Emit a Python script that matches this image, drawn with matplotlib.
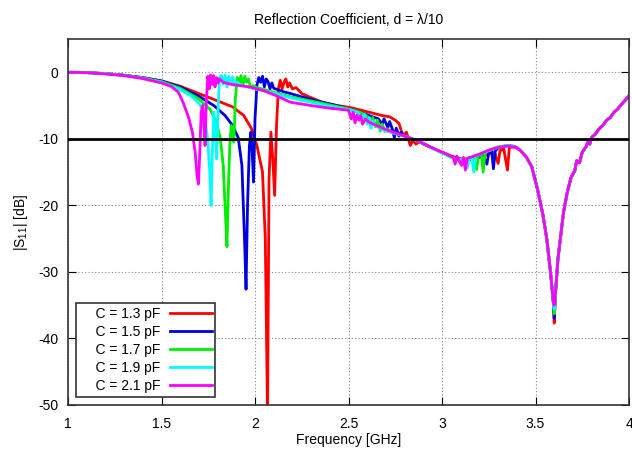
import numpy as np
import matplotlib.pyplot as plt

plt.rcParams['font.family'] = ['Liberation Sans', 'DejaVu Sans']
plt.rcParams['axes.unicode_minus'] = False
plt.rcParams['mathtext.fontset'] = 'custom'
plt.rcParams['mathtext.rm'] = 'Liberation Sans'
plt.rcParams['mathtext.it'] = 'Liberation Sans'

# capacitance labels and colours
labels = ['C = 1.3 pF', 'C = 1.5 pF', 'C = 1.7 pF', 'C = 1.9 pF', 'C = 2.1 pF']
colors = ['#ff0000', '#0000dd', '#00ee00', '#00ffff', '#ff00ff']

# per-curve data up to 3.4 GHz
f_13 = [1.0, 1.1, 1.2, 1.3, 1.4, 1.5, 1.6, 1.7, 1.8, 1.88, 1.94, 1.98, 2.01, 2.04, 2.055, 2.067,
        2.075, 2.085, 2.095, 2.105, 2.115, 2.125, 2.135, 2.145, 2.155, 2.165, 2.175, 2.185, 2.2,
        2.22, 2.25, 2.29, 2.36, 2.44, 2.51, 2.61, 2.68, 2.72, 2.75, 2.77, 2.79, 2.81, 2.83, 2.845,
        2.86, 2.88, 2.9, 2.95, 3.0, 3.05, 3.1, 3.15, 3.2, 3.25, 3.28, 3.3, 3.31, 3.33, 3.35, 3.36,
        3.38, 3.4]
s_13 = [0, -0.05, -0.2, -0.45, -0.8, -1.3, -2.1, -3.2, -4.3, -5.2, -6.5, -8.4, -11, -15, -25, -52,
        -16, -9, -13, -18.5, -8, -2.5, -1.2, -2.5, -1.5, -1.0, -2.2, -1.6, -2.5,
        -2.3, -3.2, -3.7, -4.5, -5.0, -5.3, -6.0, -6.5, -6.7, -7.2, -7.7, -9.5, -9.0, -11.0, -10.2,
        -10.8, -10.4, -10.8, -11.4, -12.0, -12.6, -13.0, -13.1, -12.8, -12.3, -12.0, -13.7, -11.8, -11.5, -14.7, -11.3,
        -11.2, -11.4]

f_15 = [1.0, 1.1, 1.2, 1.3, 1.4, 1.5, 1.6, 1.7, 1.78, 1.84, 1.88, 1.91, 1.93, 1.945, 1.952, 1.96,
        1.97, 1.978, 1.985, 1.992, 2.0, 2.01, 2.02, 2.03, 2.04, 2.05, 2.06, 2.07, 2.08, 2.09, 2.1,
        2.12, 2.15, 2.19, 2.25, 2.36, 2.45, 2.51, 2.58, 2.63, 2.66, 2.68, 2.69, 2.71, 2.72, 2.735,
        2.745, 2.755, 2.77, 2.78, 2.8, 2.83, 2.87, 2.9, 2.95, 3.0, 3.05, 3.1, 3.15, 3.2, 3.22, 3.24,
        3.25, 3.265, 3.275, 3.285, 3.3, 3.32, 3.35, 3.38, 3.4]
s_15 = [0, -0.05, -0.2, -0.45, -0.8, -1.3, -2.2, -3.6, -5.0, -6.5, -8.0, -9.8, -14, -26, -32.6, -20,
        -11, -9, -12, -16.5, -7, -2, -0.8, -1.5, -0.6, -2.2, -1.0, -1.4, -2.5, -1.6, -2.4,
        -2.6, -2.9, -3.2, -3.7, -4.5, -5.1, -5.6, -6.2, -6.7, -7.0, -7.8, -7.0, -8.3, -7.4, -8.6,
        -9.8, -8.4, -9.6, -9.0, -9.6, -9.9, -10.3, -10.7, -11.4, -12.1, -12.7, -13.1, -13.1, -12.7, -12.5, -13.8,
        -12.1, -11.8, -14.5, -11.8, -11.4, -11.2, -11.0, -11.1, -11.3]

f_17 = [1.0, 1.1, 1.2, 1.3, 1.4, 1.5, 1.6, 1.7, 1.76, 1.79, 1.815, 1.83, 1.843, 1.85, 1.857, 1.865,
        1.873, 1.88, 1.887, 1.895, 1.905, 1.915, 1.925, 1.935, 1.945, 1.955, 1.965, 1.975, 1.99,
        2.01, 2.05, 2.1, 2.19, 2.3, 2.4, 2.5, 2.57, 2.6, 2.62, 2.63, 2.645, 2.655, 2.67, 2.68, 2.695,
        2.71, 2.73, 2.76, 2.8, 2.85, 2.9, 2.95, 3.0, 3.05, 3.1, 3.15, 3.17, 3.185, 3.195, 3.21, 3.22,
        3.23, 3.26, 3.3, 3.35, 3.4]
s_17 = [0, -0.05, -0.2, -0.45, -0.85, -1.4, -2.4, -4.0, -5.6, -7.2, -10, -14, -22, -26.2, -18, -11,
        -8, -9.5, -10.5, -4, -0.8, -1.8, -0.5, -2.0, -0.6, -1.5, -1.0, -2.2, -2.0,
        -2.3, -2.6, -3.0, -3.7, -4.3, -4.9, -5.5, -6.1, -6.6, -7.6, -6.8, -8.2, -7.2, -8.8, -7.8, -8.9,
        -8.5, -9.0, -9.3, -9.6, -10.1, -10.7, -11.4, -12.1, -12.8, -13.2, -13.1, -13.0, -14.6, -12.4, -12.2, -15.0,
        -12.0, -11.6, -11.2, -11.0, -11.3]

f_19 = [1.0, 1.1, 1.2, 1.3, 1.4, 1.5, 1.6, 1.66, 1.7, 1.72, 1.735, 1.748, 1.758, 1.765, 1.772, 1.78,
        1.788, 1.795, 1.803, 1.81, 1.82, 1.83, 1.84, 1.85, 1.86, 1.87, 1.88, 1.89, 1.9, 1.93, 1.97,
        2.05, 2.12, 2.2, 2.3, 2.4, 2.5, 2.55, 2.575, 2.585, 2.6, 2.61, 2.62, 2.63, 2.645, 2.66, 2.7,
        2.75, 2.8, 2.85, 2.9, 2.95, 3.0, 3.05, 3.1, 3.12, 3.135, 3.145, 3.16, 3.17, 3.18, 3.2, 3.25,
        3.3, 3.35, 3.4]
s_19 = [0, -0.05, -0.2, -0.5, -0.9, -1.5, -2.6, -3.6, -4.6, -5.6, -7.5, -10.5, -15, -20, -12, -6,
        -9, -13, -5, -0.8, -0.5, -1.8, -0.4, -2.2, -0.6, -1.5, -0.7, -2.0, -1.4, -2.0, -2.3,
        -2.8, -3.3, -3.9, -4.5, -5.1, -5.6, -6.0, -7.0, -6.3, -7.8, -6.8, -8.4, -7.3, -8.0, -8.3, -8.8,
        -9.2, -9.6, -10.1, -10.7, -11.4, -12.1, -12.8, -13.1, -13.3, -14.4, -12.8, -13.0, -15.0, -12.5, -12.3, -11.8,
        -11.3, -11.0, -11.3]

f_21 = [1.0, 1.1, 1.2, 1.3, 1.4, 1.5, 1.55, 1.59, 1.615, 1.645, 1.665, 1.68, 1.69, 1.697, 1.705,
        1.712, 1.72, 1.727, 1.733, 1.74, 1.748, 1.755, 1.762, 1.77, 1.778, 1.786, 1.794, 1.802, 1.81,
        1.83, 1.87, 1.92, 1.97, 2.05, 2.12, 2.19, 2.3, 2.4, 2.5, 2.515, 2.525, 2.535, 2.545, 2.555,
        2.565, 2.575, 2.59, 2.61, 2.65, 2.7, 2.75, 2.8, 2.85, 2.9, 2.95, 3.0, 3.04, 3.06, 3.07, 3.08,
        3.095, 3.105, 3.115, 3.125, 3.135, 3.15, 3.2, 3.25, 3.3, 3.35, 3.4]
s_21 = [0, -0.05, -0.25, -0.5, -0.95, -1.6, -2.1, -3.0, -4.5, -6.8, -9, -12, -15.5, -16.8, -12,
        -6, -5, -8, -11, -4, -0.6, -2.5, -0.4, -1.8, -0.5, -2.2, -0.8, -1.6, -1.0,
        -1.5, -1.8, -2.0, -2.2, -2.8, -3.6, -4.5, -5.0, -5.4, -5.7, -7.0, -6.0, -7.6, -6.4, -7.2,
        -6.5, -7.8, -7.0, -7.5, -8.0, -8.6, -9.1, -9.6, -10.1, -10.7, -11.4, -12.0, -12.5, -12.8, -13.8, -12.6,
        -13.5, -14.0, -12.8, -14.7, -12.9, -12.8, -12.3, -11.7, -11.3, -11.1, -11.3]

# shared tail (second resonance near 3.6 GHz)
tail_down_f = [3.42, 3.45, 3.48, 3.51, 3.54, 3.56, 3.58, 3.595]
tail_down_s = [-11.8, -12.7, -14.2, -17.5, -21.5, -25, -30, -34.5]
dip_f = 3.6
dip_s = [-37.7, -37.0, -36.3, -35.6, -35.0]
tail_up_f = [3.607, 3.62, 3.635, 3.65, 3.67, 3.69, 3.71, 3.72, 3.735, 3.75, 3.77, 3.78, 3.79,
             3.8, 3.82, 3.84, 3.86, 3.88, 3.9, 3.92, 3.94, 3.96, 3.98, 4.0]
tail_up_s = [-33, -28, -24.5, -21, -18, -15.8, -14.8, -13.3, -13.6, -12, -11.2, -10.5, -10.8,
             -9.8, -9.3, -8.5, -8.0, -7.2, -6.8, -6.0, -5.5, -4.8, -4.2, -3.5]

freqs = [f_13, f_15, f_17, f_19, f_21]
vals = [s_13, s_15, s_17, s_19, s_21]

fig = plt.figure(figsize=(6.32, 4.51), dpi=100)
ax = fig.add_axes([0.1076, 0.102, 0.8877, 0.8115])

for f, s, dmin, col, lab in zip(freqs, vals, dip_s, colors, labels):
    ff = f + tail_down_f + [dip_f] + tail_up_f
    ss = s + tail_down_s + [dmin] + tail_up_s
    ax.plot(ff, ss, color=col, lw=2, label='    ' + lab)

ax.axhline(-10, color='black', lw=2, zorder=5)

ax.set_xlim(1, 4)
ax.set_ylim(-50, 5)
ax.set_xticks([1, 1.5, 2, 2.5, 3, 3.5, 4])
ax.set_xticklabels(['1', '1.5', '2', '2.5', '3', '3.5', '4'])
ax.set_yticks([0, -10, -20, -30, -40, -50])
ax.grid(True, color='#888888', linestyle=(0, (1, 2)), lw=0.8)
ax.tick_params(direction='in', top=True, right=True, length=6, labelsize=10)
ax.tick_params(axis='x', pad=9)
ax.tick_params(axis='y', pad=7)
for sp in ax.spines.values():
    sp.set_linewidth(1.2)
    sp.set_color('#333333')

ax.set_title('Reflection Coefficient, d = \u03bb/10', fontsize=10, pad=11)
ax.set_xlabel('Frequency [GHz]', fontsize=10, labelpad=1)
ax.set_ylabel('|S$_{11}$| [dB]', fontsize=10, labelpad=6)

leg = ax.legend(loc='lower left', markerfirst=False, fancybox=False, fontsize=10,
                handlelength=3.0, handletextpad=0.7, labelspacing=0.3, borderpad=0.25,
                borderaxespad=0.6, framealpha=1)
leg.get_frame().set_edgecolor('#333333')
leg.get_frame().set_linewidth(1.2)

plt.savefig('out.png', dpi=100)
